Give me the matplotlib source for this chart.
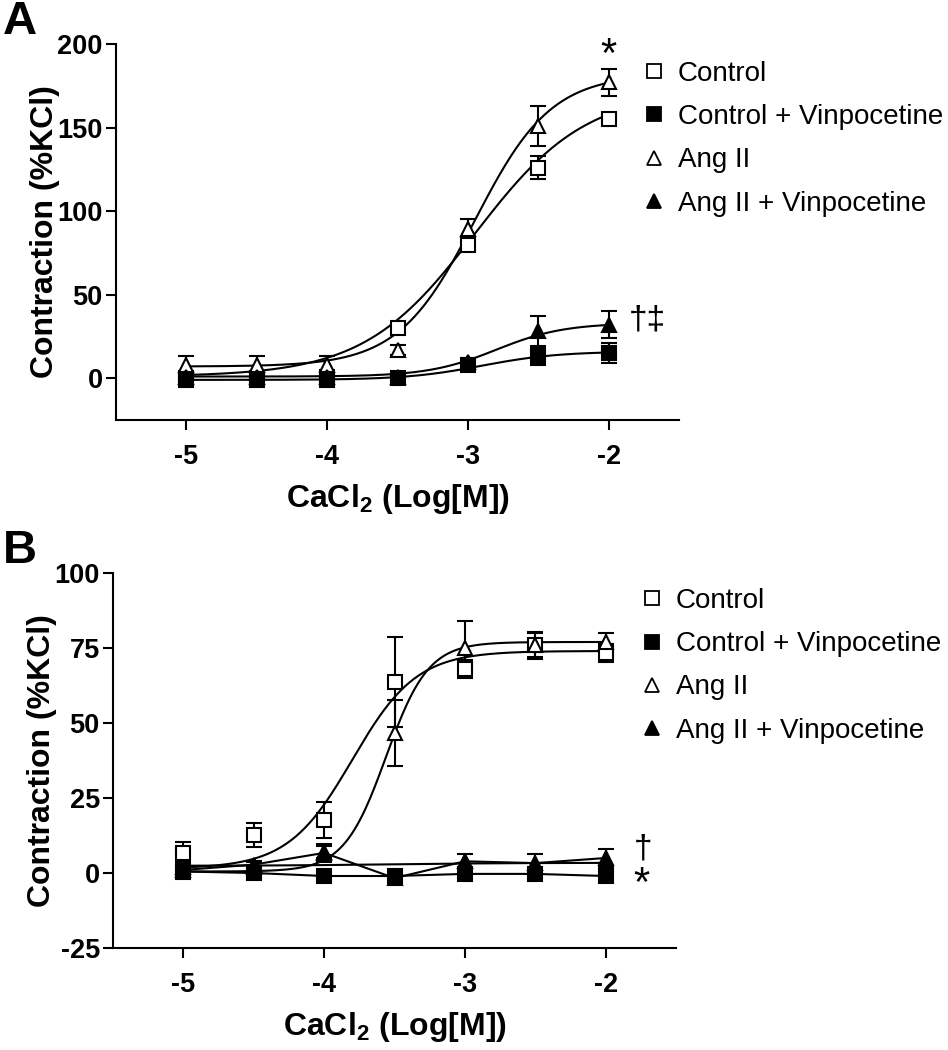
import numpy as np
import matplotlib.pyplot as plt
from matplotlib.lines import Line2D

plt.rcParams['font.family'] = ['Liberation Sans', 'DejaVu Sans']
plt.rcParams['axes.unicode_minus'] = False
plt.rcParams['mathtext.fontset'] = 'custom'
plt.rcParams['mathtext.rm'] = 'Liberation Sans:bold'
plt.rcParams['mathtext.default'] = 'rm'

# log[CaCl2] concentrations
log_ca = [-5, -4.5, -4, -3.5, -3, -2.5, -2]
labels = ['Control', 'Control + Vinpocetine', 'Ang II', 'Ang II + Vinpocetine']

# panel A: mean and error (%KCl)
a_ctrl = [0, 0, 1, 30, 80, 126, 155]
a_ctrl_err = [2, 2, 2, 3, 4, 7, 2]
a_ctrl_vin = [-1, -1, -1, 0, 8, 13, 15]
a_ctrl_vin_err = [2, 2, 2, 2, 2, 5, 6]
a_ang = [8, 8, 8, 17, 89, 151, 177]
a_ang_err = [5, 5, 5, 3, 6, 12, 8]
a_ang_vin = [1, 1, 1, 1, 10, 28, 32]
a_ang_vin_err = [2, 2, 2, 2, 2, 9, 8]

# panel A: sigmoid fit parameters (bottom, top, logEC50, hill)
a_fit_ctrl = [1, 172, -2.95, 1.1]
a_fit_ctrl_vin = [-1, 16, -2.9, 1.6]
a_fit_ang = [7, 182, -2.95, 1.6]
a_fit_ang_vin = [1, 33, -2.8, 1.8]

# panel B: mean and error (%KCl)
b_ctrl = [6.7, 12.8, 17.8, 63.6, 68, 76, 73.5]
b_ctrl_err = [3.5, 4, 6, 15, 3, 4.5, 3]
b_ctrl_vin = [0.5, 0, -1, -1, -0.3, -0.3, -1]
b_ctrl_vin_err = [1, 1, 1, 1, 1, 1, 1]
b_ang = [2, 2, 7, 46.7, 75, 76, 77]
b_ang_err = [2, 2, 2, 11, 9, 4, 3]
b_ang_vin = [1, 2.8, 6.7, -1.7, 3.9, 3.3, 5]
b_ang_vin_err = [1, 1, 3, 1, 2.5, 3, 3]

# panel B: sigmoid fit parameters (bottom, top, logEC50, hill)
b_fit_ctrl = [1.5, 74, -3.8, 1.9]
b_fit_ang = [0.5, 77, -3.56, 2.9]
b_fit_flat = [2.4, 3.4, -3.5, 1.0]


def hill(x, p):
    bottom, top, ec50, h = p
    return bottom + (top - bottom) / (1 + 10 ** ((ec50 - x) * h))


styles = {
    'Control': dict(marker='s', mfc='white'),
    'Control + Vinpocetine': dict(marker='s', mfc='black'),
    'Ang II': dict(marker='^', mfc='white'),
    'Ang II + Vinpocetine': dict(marker='^', mfc='black'),
}

fig = plt.figure(figsize=(9.48, 10.5), dpi=100)
axA = fig.add_axes([116 / 948, 1 - 420 / 1050, 563 / 948, 376 / 1050])
axB = fig.add_axes([113 / 948, 1 - 948 / 1050, 563 / 948, 375 / 1050])

xs = np.linspace(-5, -2, 300)


def draw_points(ax, y, err, name):
    ax.errorbar(log_ca, y, yerr=err, fmt='none', ecolor='black',
                elinewidth=1.5, capsize=6, capthick=1.5, zorder=3)
    st = styles[name]
    ax.plot(log_ca, y, linestyle='none', marker=st['marker'], markersize=10.5,
            markerfacecolor=st['mfc'], markeredgecolor='black',
            markeredgewidth=1.5, zorder=4 if st['mfc'] == 'white' else 5)


# panel A
for p in [a_fit_ctrl, a_fit_ang, a_fit_ctrl_vin, a_fit_ang_vin]:
    axA.plot(xs, hill(xs, p), color='black', lw=1.5, zorder=2)
draw_points(axA, a_ctrl, a_ctrl_err, 'Control')
draw_points(axA, a_ang, a_ang_err, 'Ang II')
draw_points(axA, a_ctrl_vin, a_ctrl_vin_err, 'Control + Vinpocetine')
draw_points(axA, a_ang_vin, a_ang_vin_err, 'Ang II + Vinpocetine')
axA.set_ylim(-25, 200)
axA.set_yticks([0, 50, 100, 150, 200])

# panel B
for p in [b_fit_ctrl, b_fit_ang, b_fit_flat]:
    axB.plot(xs, hill(xs, p), color='black', lw=1.5, zorder=2)
axB.plot(log_ca, b_ctrl_vin, color='black', lw=1.5, zorder=2)
axB.plot(log_ca, b_ang_vin, color='black', lw=1.5, zorder=2)
draw_points(axB, b_ctrl, b_ctrl_err, 'Control')
draw_points(axB, b_ang, b_ang_err, 'Ang II')
draw_points(axB, b_ctrl_vin, b_ctrl_vin_err, 'Control + Vinpocetine')
draw_points(axB, b_ang_vin, b_ang_vin_err, 'Ang II + Vinpocetine')
axB.set_ylim(-25, 100)
axB.set_yticks([-25, 0, 25, 50, 75, 100])

for ax in [axA, axB]:
    ax.set_xlim(-5.5, -1.5)
    ax.set_xticks([-5, -4, -3, -2])
    for side in ['top', 'right']:
        ax.spines[side].set_visible(False)
    for side in ['left', 'bottom']:
        ax.spines[side].set_linewidth(1.5)
    ax.tick_params(width=1.5, length=7.5, labelsize=19.5)
    ax.tick_params(axis='x', pad=10)
    ax.tick_params(axis='y', pad=2)
    for lab in ax.get_xticklabels() + ax.get_yticklabels():
        lab.set_fontweight('bold')
    ax.set_xlabel('CaCl$_2$ (Log[M])', fontsize=23, fontweight='bold')
    ax.set_ylabel('Contraction (%KCl)', fontsize=23, fontweight='bold')
    ax.yaxis.set_label_coords(-0.1, 0.5)
    ax.xaxis.set_label_coords(0.5, -0.165)

    handles = [Line2D([], [], linestyle='none', marker=styles[n]['marker'],
                      markersize=9.5, markerfacecolor=styles[n]['mfc'],
                      markeredgecolor='black', markeredgewidth=1.3)
               for n in labels]
    ax.legend(handles, labels, fontsize=20, frameon=False, loc='upper left',
              bbox_to_anchor=(1.0, 1.0), borderpad=0, borderaxespad=0,
              handlelength=0.6, handletextpad=0.55, labelspacing=0.62)

axA.get_legend().set_bbox_to_anchor((646 / 948, 1 - 61 / 1050), transform=fig.transFigure)
axB.get_legend().set_bbox_to_anchor((644 / 948, 1 - 588 / 1050), transform=fig.transFigure)

# significance marks
axA.text(-2, 193, '*', fontsize=30, ha='center', va='center')
axA.text(-1.86, 35, '\u2020\u2021', fontsize=24, ha='left', va='center')
axB.text(-1.8, 8, '\u2020', fontsize=24, ha='left', va='center')
axB.text(-1.8, -4, '*', fontsize=30, ha='left', va='center')

# panel letters
fig.text(0.003, 1 - 22 / 1050, 'A', fontsize=34, fontweight='bold', va='center')
fig.text(0.003, 1 - 551 / 1050, 'B', fontsize=34, fontweight='bold', va='center')

fig.savefig('out.png', dpi=100)
